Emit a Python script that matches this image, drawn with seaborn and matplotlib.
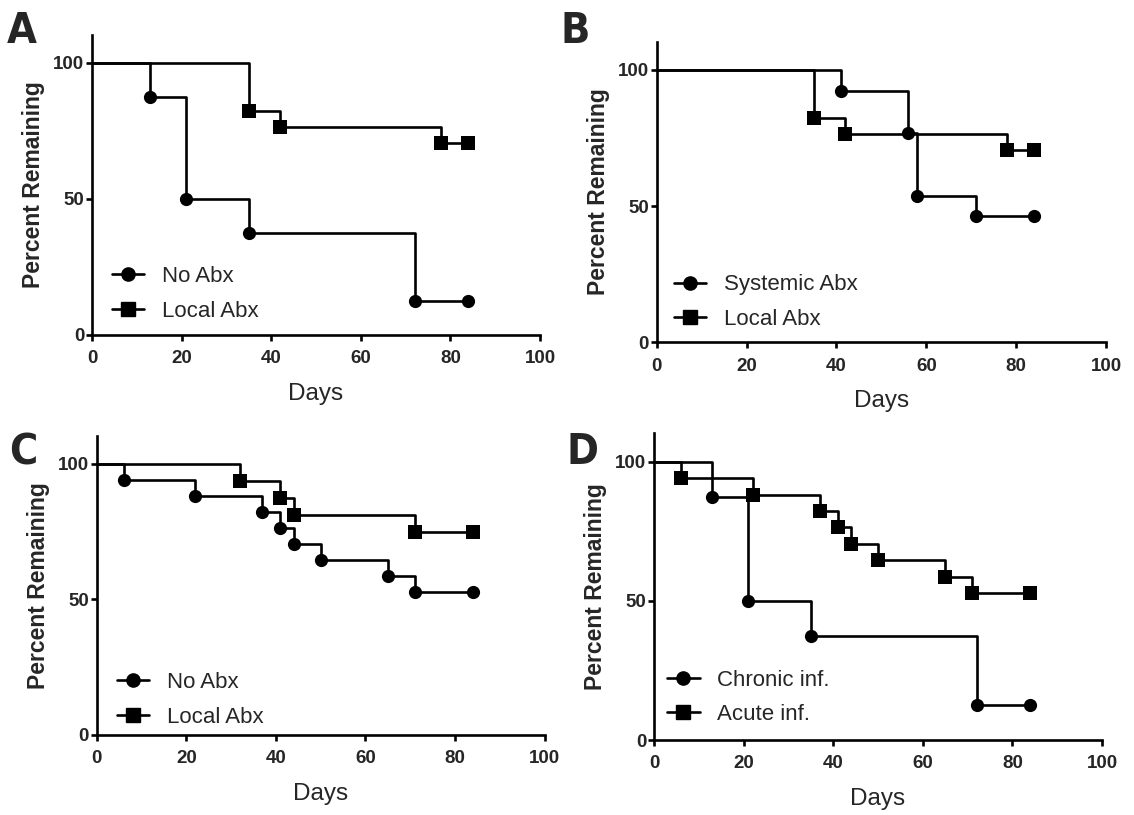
import matplotlib
matplotlib.use("Agg")
import matplotlib.pyplot as plt
from matplotlib.lines import Line2D
import seaborn as sns
import pandas as pd

# ---- data (Kaplan-Meier steps: day, percent remaining) ----
a_noabx_days = [0, 13, 21, 35, 72, 84]
a_noabx_pct = [100, 87.5, 50, 37.5, 12.5, 12.5]
a_local_days = [0, 35, 42, 78, 84]
a_local_pct = [100, 82.35, 76.47, 70.59, 70.59]

b_systemic_days = [0, 41, 56, 58, 71, 84]
b_systemic_pct = [100, 92.3, 76.9, 53.8, 46.2, 46.2]
b_local_days = [0, 35, 42, 78, 84]
b_local_pct = [100, 82.35, 76.47, 70.59, 70.59]

c_noabx_days = [0, 6, 22, 37, 41, 44, 50, 65, 71, 84]
c_noabx_pct = [100, 94.1, 88.2, 82.4, 76.5, 70.6, 64.7, 58.8, 52.9, 52.9]
c_local_days = [0, 32, 41, 44, 71, 84]
c_local_pct = [100, 93.75, 87.5, 81.25, 75, 75]

d_chronic_days = [0, 13, 21, 35, 72, 84]
d_chronic_pct = [100, 87.5, 50, 37.5, 12.5, 12.5]
d_acute_days = [0, 6, 22, 37, 41, 44, 50, 65, 71, 84]
d_acute_pct = [100, 94.1, 88.2, 82.4, 76.5, 70.6, 64.7, 58.8, 52.9, 52.9]

panel_letters = ["A", "B", "C", "D"]
legend_labels = [["No Abx", "Local Abx"], ["Systemic Abx", "Local Abx"],
                 ["No Abx", "Local Abx"], ["Chronic inf.", "Acute inf."]]
x_ticks = [0, 20, 40, 60, 80, 100]
y_ticks = [0, 50, 100]

sns.set_style("ticks")
plt.rcParams["font.family"] = ["Liberation Sans", "DejaVu Sans"]

LW = 1.9
fig = plt.figure(figsize=(11.34, 8.15), dpi=100)

# axes rectangles in figure fraction [left, bottom, width, height]
rects = [
    [0.0811, 0.5890, 0.3951, 0.3681],
    [0.5791, 0.5800, 0.3962, 0.3688],
    [0.0853, 0.0982, 0.3949, 0.3668],
    [0.5767, 0.0920, 0.3951, 0.3763],
]
letter_pos = [(0.006, 0.988), (0.494, 0.988), (0.008, 0.471), (0.500, 0.471)]
legend_anchor = [(0.025, 0.015), (0.018, 0.012), (0.025, -0.005), (0.01, 0.02)]

series = [
    [(a_noabx_days, a_noabx_pct), (a_local_days, a_local_pct)],
    [(b_systemic_days, b_systemic_pct), (b_local_days, b_local_pct)],
    [(c_noabx_days, c_noabx_pct), (c_local_days, c_local_pct)],
    [(d_chronic_days, d_chronic_pct), (d_acute_days, d_acute_pct)],
]
markers = ["o", "s"]
msizes = [9.5, 9.5]

for i in range(4):
    ax = fig.add_axes(rects[i])
    handles = []
    for j, (days, pct) in enumerate(series[i]):
        df = pd.DataFrame({"Days": days, "Pct": pct})
        sns.lineplot(data=df, x="Days", y="Pct", ax=ax, color="black",
                     linewidth=LW, drawstyle="steps-post", estimator=None,
                     sort=False, legend=False)
        sns.scatterplot(data=df.iloc[1:], x="Days", y="Pct", ax=ax,
                        color="black", marker=markers[j], s=msizes[j] ** 2,
                        linewidth=0, legend=False, zorder=3)
        handles.append(Line2D([], [], color="black", lw=LW, marker=markers[j],
                              markersize=msizes[j]))
    ax.set_xlim(0, 100)
    ax.set_ylim(0, 110.3)
    ax.set_xticks(x_ticks, labels=[str(t) for t in x_ticks],
                  fontsize=13.5, fontweight="bold")
    ax.set_yticks(y_ticks, labels=[str(t) for t in y_ticks],
                  fontsize=13.5, fontweight="bold")
    ax.set_xlabel("Days", fontsize=17.5, labelpad=11)
    ax.set_ylabel("Percent Remaining", fontsize=16.5, fontweight="bold",
                  labelpad=6)
    ax.tick_params(direction="out", length=4, width=LW, color="black")
    ax.tick_params(axis="x", pad=7)
    ax.tick_params(axis="y", pad=1.5)
    sns.despine(ax=ax)
    for s in ["left", "bottom"]:
        ax.spines[s].set_linewidth(LW)
        ax.spines[s].set_color("black")
    ax.legend(handles, legend_labels[i], loc="lower left",
              bbox_to_anchor=legend_anchor[i], frameon=False, fontsize=16,
              handlelength=1.45, handletextpad=0.8, labelspacing=0.6,
              numpoints=1, borderaxespad=0)
    fig.text(letter_pos[i][0], letter_pos[i][1], panel_letters[i],
             fontsize=31, fontweight="heavy", fontstretch="condensed",
             ha="left", va="top", family=["DejaVu Sans"])

fig.savefig("out.png", dpi=100)
